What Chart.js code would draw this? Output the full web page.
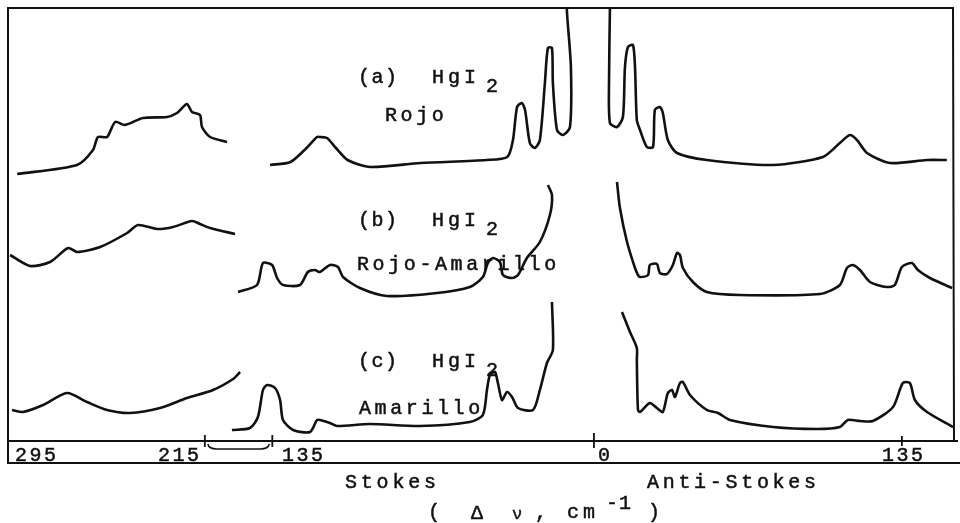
<!DOCTYPE html>
<html>
<head>
<meta charset="utf-8">
<script src="https://cdn.jsdelivr.net/npm/chart.js@4.4.1/dist/chart.umd.min.js"></script>
<style>
  html, body { margin: 0; padding: 0; background: #fff; }
  canvas { display: block; }
</style>
</head>
<body>
<canvas id="chart" width="960" height="523"></canvas>
<script>
// Raman shift in cm-1 (Stokes side negative), intensity in arbitrary units (stacked)
// left pieces sit on the broken part of the axis (295 .. 215)
const rojoLeft = [[305,267],[271.5,276],[262.6,291],[259.8,304],[254.7,304],[250.2,319],[244.7,316],[234.6,323],[221.2,324],[215.6,328],[210,337],[207.2,329],[202.7,326],[201.6,314],[197.1,304],[187.6,299]];
const rojoStokes = [[-142,276],[-133,279],[-126,293],[-121.4,304],[-120,304],[-117,303],[-113.5,294],[-108,281],[-98,274],[-76,278],[-47,281],[-38,284],[-35.5,301],[-33.7,334],[-31.6,338],[-30.2,331],[-28.1,298],[-25.9,293],[-23.7,301],[-21.5,358],[-20.2,393],[-18.4,393],[-18,358],[-16.2,311],[-13.6,306],[-10.5,314],[-10.1,374],[-11.8,428],[-12.5,470]];
const rojoAnti = [[7,451],[7,431],[6.6,358],[7,318],[10.1,314],[12.7,324],[13.6,374],[14.9,394],[17.1,396],[18,374],[18.8,321],[20.2,311],[23.2,294],[25.9,294],[26.7,331],[28.9,334],[30.2,328],[32.4,301],[36.4,288],[49.5,281],[78.5,276],[100.4,284],[107.8,298],[112.2,306],[115.3,301],[119.7,288],[129.7,278],[146,281],[154.7,281]];

const rojoAmarLeft = [[309,186],[297.8,175],[286.6,179],[276.5,193],[271.5,189],[258.6,194],[243.5,208],[237.4,216],[226.7,212],[217.8,214],[207.2,220],[202.7,217],[197.1,213],[183.1,207]];
const rojoAmarStokes = [[-156,149],[-147.7,156],[-145.1,178],[-141.1,176],[-138.9,163],[-136.3,156],[-128.9,156],[-125.4,169],[-122.3,171],[-120.1,169],[-115.7,176],[-112.2,174],[-110,164],[-102.6,153],[-90.7,145],[-68.8,148],[-54.4,154],[-48.7,164],[-46.5,178],[-44.3,183],[-41.2,179],[-39.9,166],[-35.9,163],[-33.3,166],[-29.4,183],[-23.7,199],[-19.3,226],[-18.4,246],[-20.2,256]];
const rojoAmarAnti = [[10.1,259],[11.4,233],[14.5,199],[18,173],[19.3,166],[20.2,164],[23.7,166],[24.5,176],[27.6,177],[28.9,168],[32,167],[34.6,176],[36.4,188],[37.7,186],[39,173],[43.4,159],[49.5,149],[64,146],[99.1,147],[107.8,156],[110.9,173],[113.5,176],[116.6,171],[121,159],[128.4,154],[131.9,156],[135,174],[139.4,178],[142,171],[147.3,163],[157,153]];

const amarLeft = [[307.9,31],[301.7,29],[290.5,36],[277.1,48],[265.9,39],[254.7,31],[241.9,28],[225.1,33],[210,43],[195.4,51],[184.2,62],[180.3,69]];
const amarStokes = [[-158.7,11],[-150.8,13],[-147.3,24],[-145.1,51],[-143.3,56],[-139.8,53],[-137.6,41],[-136.3,21],[-131.9,11],[-124.5,9],[-121.4,21],[-120.1,21],[-115.7,18],[-112.6,15],[-98.2,17],[-76.3,15],[-54.4,19],[-48.7,26],[-46.9,51],[-45.6,66],[-43.4,69],[-42.1,58],[-40.3,41],[-38.1,49],[-35.9,44],[-33.3,33],[-26.7,31],[-23.7,51],[-20.6,78],[-18,91],[-18.4,139]];
const amarAnti = [[12.3,129],[15.8,109],[18.8,93],[18.8,81],[19.3,31],[20.2,29],[24.5,38],[27.6,33],[30.2,29],[32.4,48],[34.2,51],[35.5,44],[37.7,58],[39,59],[42.1,46],[49.5,31],[54.4,28],[59.6,21],[78.5,14],[97.7,12],[107.8,14],[111.3,21],[116.6,20],[122.3,20],[131.1,34],[135.4,58],[138.5,58],[140.7,41],[146,29],[157.4,14]];

// tick labels
const mainTicks = [-135, 0, 135];
const mainTickLabels = ["135", "0", "135"];
const breakTicks = [295, 215];
const breakTickLabels = ["295", "215"];
const breakFrom = 200;   // on broken scale
const breakTo = -141;    // on main scale

const FONT = "Liberation Mono, DejaVu Sans Mono, monospace";
const INK = "#111";

function seg(points, axisId) {
  return {
    data: points.map(p => ({ x: p[0], y: p[1] })),
    xAxisID: axisId,
    showLine: true,
    borderColor: INK,
    borderWidth: 2.6,
    pointRadius: 0,
    tension: 0.25,
    fill: false
  };
}

// typewriter look: spaced letters, a little heavier than the plain font
function spaced(ctx, text, x, y, pitch) {
  for (let i = 0; i < text.length; i++) {
    ctx.fillText(text[i], x + i * pitch, y);
    ctx.strokeText(text[i], x + i * pitch, y);
  }
}

const decor = {
  id: 'decor',
  afterDraw(chart) {
    const ctx = chart.ctx;
    const a = chart.chartArea;
    const sx = chart.scales.x;
    const sb = chart.scales.xb;
    const axisY = a.bottom;
    const lowY = axisY + 22;

    ctx.save();
    ctx.strokeStyle = INK;
    ctx.fillStyle = INK;
    ctx.lineWidth = 2;

    // frame
    ctx.beginPath();
    ctx.moveTo(a.left + 1, lowY);
    ctx.lineTo(a.left + 1, a.top);
    ctx.lineTo(a.right, a.top);
    ctx.lineTo(a.right + 1, axisY);
    ctx.moveTo(a.left, axisY);
    ctx.lineTo(958, axisY);
    ctx.moveTo(a.left, lowY);
    ctx.lineTo(960, lowY);
    ctx.stroke();

    // tick marks
    ctx.lineWidth = 1.8;
    ctx.beginPath();
    const p0 = sx.getPixelForValue(0);
    ctx.moveTo(p0, axisY - 8); ctx.lineTo(p0, axisY + 7);
    const p135 = sx.getPixelForValue(135);
    ctx.moveTo(p135, axisY - 5); ctx.lineTo(p135, axisY + 5);
    const bL = sb.getPixelForValue(breakFrom);
    const bR = sx.getPixelForValue(breakTo);
    ctx.moveTo(bL, axisY - 6); ctx.lineTo(bL, axisY + 6);
    ctx.moveTo(bR, axisY - 6); ctx.lineTo(bR, axisY + 6);
    ctx.stroke();
    // brace under the break
    ctx.lineWidth = 1.5;
    ctx.beginPath();
    ctx.moveTo(bL + 3, axisY + 3);
    ctx.quadraticCurveTo(bL + 4, axisY + 8, bL + 12, axisY + 8);
    ctx.lineTo(bR - 12, axisY + 8);
    ctx.quadraticCurveTo(bR - 4, axisY + 8, bR - 3, axisY + 3);
    ctx.stroke();

    // tick labels
    ctx.lineWidth = 0.5;
    ctx.font = "20px " + FONT;
    ctx.textBaseline = "middle";
    ctx.textAlign = "left";
    const ty = axisY + 15;
    breakTicks.forEach((v, i) => {
      const px = sb.getPixelForValue(v);
      spaced(ctx, breakTickLabels[i], px - 20, ty, 14.5);
    });
    mainTicks.forEach((v, i) => {
      const px = sx.getPixelForValue(v);
      let x0 = px - 20;
      if (v < 0) x0 = px - 4;
      if (v === 0) x0 = px + 4;
      spaced(ctx, mainTickLabels[i], x0, ty, 14.5);
    });

    // axis titles
    spaced(ctx, "Stokes", 345, 483, 15.8);
    spaced(ctx, "Anti-Stokes", 647, 483, 15.7);
    spaced(ctx, "(", 428, 513, 0);
    spaced(ctx, "\u0394", 471, 514, 0);
    ctx.font = "17px " + FONT;
    spaced(ctx, "\u03bd", 512, 514, 0);
    ctx.font = "20px " + FONT;
    spaced(ctx, ",", 535, 513, 0);
    spaced(ctx, "cm", 567, 513, 16);
    spaced(ctx, "-1", 606, 504, 13);
    spaced(ctx, ")", 648, 513, 0);

    // spectrum labels
    const tags = [
      ["(a)", "Rojo", 78, 116, 385],
      ["(b)", "Rojo-Amarillo", 221, 265, 357],
      ["(c)", "Amarillo", 362, 409, 359]
    ];
    tags.forEach(t => {
      spaced(ctx, t[0], 358, t[2], 13.5);
      spaced(ctx, "HgI", 432, t[2], 16);
      spaced(ctx, "2", 486, t[2] + 9, 0);
      spaced(ctx, t[1], t[4], t[3], 15.6);
    });
    ctx.restore();
  }
};

new Chart(document.getElementById('chart'), {
  type: 'scatter',
  data: {
    datasets: [
      seg(rojoLeft, 'xb'), seg(rojoStokes, 'x'), seg(rojoAnti, 'x'),
      seg(rojoAmarLeft, 'xb'), seg(rojoAmarStokes, 'x'), seg(rojoAmarAnti, 'x'),
      seg(amarLeft, 'xb'), seg(amarStokes, 'x'), seg(amarAnti, 'x')
    ]
  },
  options: {
    responsive: false,
    animation: false,
    devicePixelRatio: 1,
    layout: { padding: { left: 7, right: 7, top: 8, bottom: 82 } },
    plugins: { legend: { display: false }, tooltip: { enabled: false } },
    scales: {
      x: { type: 'linear', min: -257.3, max: 157.4, display: false },
      xb: { type: 'linear', reverse: true, min: -218.6, max: 310.7, display: false },
      y: { type: 'linear', min: 0, max: 433, display: false }
    }
  },
  plugins: [decor]
});
</script>
</body>
</html>
